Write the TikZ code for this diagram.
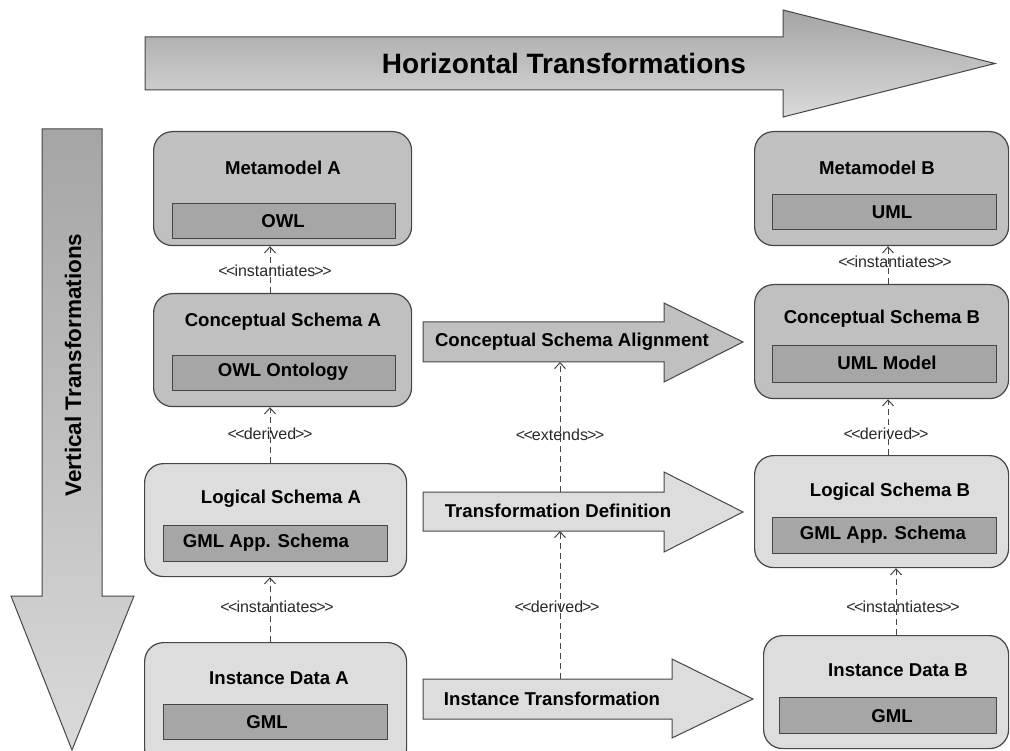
\documentclass[tikz,border=0pt]{standalone}
\usepackage{fontspec}
\setmainfont{Liberation Sans}
\usetikzlibrary{arrows.meta,calc}
\definecolor{boxdark}{RGB}{192,192,192}
\definecolor{boxlight}{RGB}{221,221,221}
\definecolor{innerfill}{RGB}{166,166,166}
\definecolor{edgecol}{RGB}{70,70,70}
\definecolor{gtop}{RGB}{165,165,165}
\definecolor{gbot}{RGB}{218,218,218}
\definecolor{lblcol}{RGB}{40,40,40}
\newcommand\stereo[1]{<\kern-1.5pt<\kern-1pt#1\kern-1pt>\kern-1.5pt>}
\begin{document}
\begin{tikzpicture}[x=1pt,y=-1pt,
  outerbox/.style={draw=edgecol, line width=1.2pt, rounded corners=19pt, inner sep=0pt, anchor=north west},
  innerbox/.style={draw=edgecol, line width=1pt, fill=innerfill, inner sep=0pt, anchor=north west},
  boldtxt/.style={font=\fontsize{18.6}{18.6}\selectfont\bfseries, text=black, inner sep=0pt},
  bigtxt/.style={font=\fontsize{28}{28}\selectfont\bfseries, text=black, inner sep=0pt},
  lbl/.style={font=\fontsize{16}{16}\selectfont, text=lblcol, inner sep=0pt},
  bigarrow/.style={draw=edgecol, line width=1pt, top color=gtop, bottom color=gbot},
  midarrow/.style={draw=edgecol, line width=1pt},
  dep/.style={draw=edgecol, line width=1pt, dash pattern=on 6pt off 4pt, -{Straight Barb[length=6pt,width=11pt]}}
]
\useasboundingbox (0,0) rectangle (1010,751);
\clip (0,0) rectangle (1010,751);

% big arrows
\path[bigarrow] (145,37) -- (783,37) -- (783,10) -- (995,63.5) -- (783,117) -- (783,90) -- (145,90) -- cycle;
\node[bigtxt] (htitle) at (564,63) {Horizontal Transformations};
\path[bigarrow] (42,129) -- (102,129) -- (102,596) -- (134,596) -- (72,750) -- (11,596) -- (42,596) -- cycle;
\node[bigtxt, font=\fontsize{22.5}{22.5}\selectfont\bfseries, rotate=90] (vtitle) at (73,365) {Vertical Transformations};

% middle arrows
\path[midarrow, fill=boxdark] (423,322) -- (664,322) -- (664,303) -- (743,342) -- (664,382) -- (664,362) -- (423,362) -- cycle;
\node[boldtxt] (csat) at (572,342) {Conceptual Schema Alignment};
\path[midarrow, fill=boxlight] (423,492) -- (664,492) -- (664,472) -- (743,512) -- (664,552) -- (664,531) -- (423,531) -- cycle;
\node[boldtxt] (tdt) at (558,511) {Transformation Definition};
\path[midarrow, fill=boxlight] (423,679) -- (672,679) -- (672,659) -- (753,699) -- (672,738) -- (672,719) -- (423,719) -- cycle;
\node[boldtxt] (itt) at (552,699) {Instance Transformation};
\coordinate (csaB) at (560,362);
\coordinate (tdT) at (560,492);
\coordinate (tdB) at (560,531);
\coordinate (itT) at (560,679);

% left column
\node[outerbox, fill=boxdark, minimum width=258pt, minimum height=114pt] (mmA) at (153,131) {};
\node[boldtxt] (mmAt) at (283,168) {Metamodel A};
\node[innerbox, minimum width=223pt, minimum height=35pt] (mmAi) at (172,203) {};
\node[boldtxt] (mmAit) at (283,221) {OWL};

\node[outerbox, fill=boxdark, minimum width=258pt, minimum height=113pt] (csA) at (153,293) {};
\node[boldtxt] (csAt) at (283,322) {Conceptual Schema A};
\node[innerbox, minimum width=223pt, minimum height=35pt] (csAi) at (172,355) {};
\node[boldtxt] (csAit) at (283,372) {OWL Ontology};

\node[outerbox, fill=boxlight, minimum width=262pt, minimum height=113pt] (lsA) at (144,463) {};
\node[boldtxt] (lsAt) at (281,499) {Logical Schema A};
\node[innerbox, minimum width=224pt, minimum height=36pt] (lsAi) at (163,525) {};
\node[boldtxt] (lsAit) at (266,543) {GML App. Schema};

\node[outerbox, fill=boxlight, minimum width=262pt, minimum height=125pt] (idA) at (144,642) {};
\node[boldtxt] (idAt) at (279,678) {Instance Data A};
\node[innerbox, minimum width=224pt, minimum height=35pt] (idAi) at (163,704) {};
\node[boldtxt] (idAit) at (267,722) {GML};

% right column
\node[outerbox, fill=boxdark, minimum width=254pt, minimum height=114pt] (mmB) at (754,131) {};
\node[boldtxt] (mmBt) at (877,168) {Metamodel B};
\node[innerbox, minimum width=224pt, minimum height=35pt] (mmBi) at (772,194) {};
\node[boldtxt] (mmBit) at (892,212) {UML};

\node[outerbox, fill=boxdark, minimum width=254pt, minimum height=114pt] (csB) at (754,284) {};
\node[boldtxt] (csBt) at (882,319) {Conceptual Schema B};
\node[innerbox, minimum width=224pt, minimum height=37pt] (csBi) at (772,345) {};
\node[boldtxt] (csBit) at (887,363) {UML Model};

\node[outerbox, fill=boxlight, minimum width=254pt, minimum height=112pt] (lsB) at (754,455) {};
\node[boldtxt] (lsBt) at (890,492) {Logical Schema B};
\node[innerbox, minimum width=224pt, minimum height=36pt] (lsBi) at (772,517) {};
\node[boldtxt] (lsBit) at (883,535) {GML App. Schema};

\node[outerbox, fill=boxlight, minimum width=245pt, minimum height=113pt] (idB) at (763,635) {};
\node[boldtxt] (idBt) at (898,670) {Instance Data B};
\node[innerbox, minimum width=217pt, minimum height=36pt] (idBi) at (779,697) {};
\node[boldtxt] (idBit) at (892,716) {GML};

% column reference coordinates
\coordinate (colA) at (270,0);
\coordinate (colB) at (888,0);
\coordinate (colB3) at (896,0);

% connectors
\draw[dep] (csA.north -| colA) -- (mmA.south -| colA);
\draw[dep] (lsA.north -| colA) -- (csA.south -| colA);
\draw[dep] (idA.north -| colA) -- (lsA.south -| colA);
\draw[dep] (csB.north -| colB) -- (mmB.south -| colB);
\draw[dep] (lsB.north -| colB) -- (csB.south -| colB);
\draw[dep] (idB.north -| colB3) -- (lsB.south -| colB3);
\draw[dep] (tdT) -- (csaB);
\draw[dep] (itT) -- (tdB);

% labels
\node[lbl] (l1) at (275,271) {\stereo{instantiates}};
\node[lbl] (l2) at (270,434) {\stereo{derived}};
\node[lbl] (l3) at (277,607) {\stereo{instantiates}};
\node[lbl] (l4) at (895,262) {\stereo{instantiates}};
\node[lbl] (l5) at (886,434) {\stereo{derived}};
\node[lbl] (l6) at (903,607) {\stereo{instantiates}};
\node[lbl] (l7) at (560,435) {\stereo{extends}};
\node[lbl] (l8) at (557,607) {\stereo{derived}};
\end{tikzpicture}
\end{document}
